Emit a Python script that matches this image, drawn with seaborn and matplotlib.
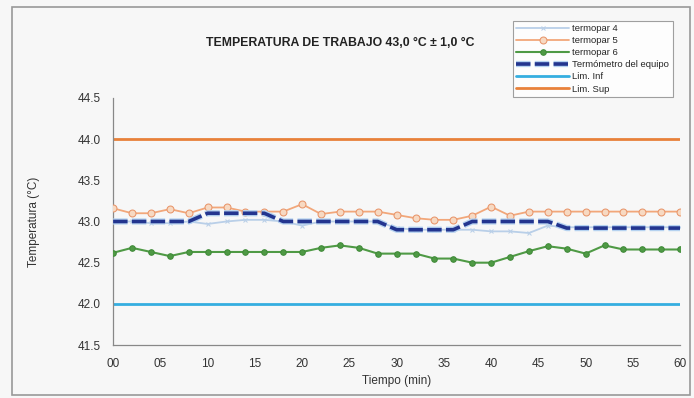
import matplotlib
matplotlib.use("Agg")
import matplotlib.pyplot as plt
import matplotlib.patheffects as pe
from matplotlib.patches import Rectangle
import seaborn as sns

tiempo = [0, 2, 4, 6, 8, 10, 12, 14, 16, 18, 20, 22, 24, 26, 28, 30,
          32, 34, 36, 38, 40, 42, 44, 46, 48, 50, 52, 54, 56, 58, 60]
termopar_4 = [43.00, 43.00, 42.98, 42.98, 43.00, 42.97, 43.00, 43.02, 43.02, 43.00, 42.95,
              43.00, 43.00, 43.00, 43.00, 42.92, 42.90, 42.90, 42.90, 42.90, 42.88,
              42.88, 42.86, 42.95, 42.93, 42.93, 42.93, 42.93, 42.93, 42.93, 42.93]
termopar_5 = [43.16, 43.10, 43.10, 43.15, 43.10, 43.17, 43.17, 43.12, 43.12, 43.12, 43.21,
              43.09, 43.12, 43.12, 43.12, 43.08, 43.04, 43.02, 43.02, 43.07, 43.18,
              43.07, 43.12, 43.12, 43.12, 43.12, 43.12, 43.12, 43.12, 43.12, 43.12]
termopar_6 = [42.62, 42.68, 42.63, 42.58, 42.63, 42.63, 42.63, 42.63, 42.63, 42.63, 42.63,
              42.68, 42.71, 42.68, 42.61, 42.61, 42.61, 42.55, 42.55, 42.50, 42.50,
              42.57, 42.64, 42.70, 42.67, 42.61, 42.71, 42.66, 42.66, 42.66, 42.66]
termometro = [43.0, 43.0, 43.0, 43.0, 43.0, 43.1, 43.1, 43.1, 43.1, 43.0, 43.0,
              43.0, 43.0, 43.0, 43.0, 42.9, 42.9, 42.9, 42.9, 43.0, 43.0,
              43.0, 43.0, 43.0, 42.92, 42.92, 42.92, 42.92, 42.92, 42.92, 42.92]
lim_tiempo = [0, 60]
lim_inf = [42.0, 42.0]
lim_sup = [44.0, 44.0]

x_ticks = [0, 5, 10, 15, 20, 25, 30, 35, 40, 45, 50, 55, 60]
x_labels = ["00", "05", "10", "15", "20", "25", "30", "35", "40", "45", "50", "55", "60"]
y_ticks = [41.5, 42.0, 42.5, 43.0, 43.5, 44.0, 44.5]

sns.set_style("white")
plt.rcParams['font.family'] = ['Liberation Sans', 'DejaVu Sans']

fig = plt.figure(figsize=(6.94, 3.98), dpi=100, facecolor='#f7f7f7')
ax = fig.add_axes([0.163, 0.133, 0.817, 0.621])
ax.set_facecolor('none')

sns.lineplot(x=tiempo, y=termopar_4, ax=ax, color='#b9cfe8', lw=1.3, marker='x',
             markersize=3, markeredgecolor='#b9cfe8', label='termopar 4', zorder=3)
sns.lineplot(x=tiempo, y=termopar_5, ax=ax, color='#f2a77a', lw=1.3, marker='o',
             markersize=5, markerfacecolor='#f7d9c2', markeredgecolor='#e8956a',
             label='termopar 5', zorder=4)
sns.lineplot(x=tiempo, y=termopar_6, ax=ax, color='#4f9a45', lw=1.5, marker='o',
             markersize=4, markeredgecolor='#3f8a38', label='termopar 6', zorder=4)
sns.lineplot(x=tiempo, y=termometro, ax=ax, color='#23358f', lw=2.6,
             label='Termómetro del equipo', zorder=5)
ax.lines[-1].set_dashes((4, 1.2))
ax.lines[-1].set_path_effects([pe.Stroke(linewidth=4.5, foreground='#b5d2f0'), pe.Normal()])
sns.lineplot(x=lim_tiempo, y=lim_inf, ax=ax, color='#35aee0', lw=2, label='Lim. Inf', zorder=2)
sns.lineplot(x=lim_tiempo, y=lim_sup, ax=ax, color='#e8813a', lw=2, label='Lim. Sup', zorder=2)

ax.set_xlim(0, 60)
ax.set_ylim(41.5, 44.5)
ax.set_xticks(x_ticks)
ax.set_xticklabels(x_labels)
ax.set_yticks(y_ticks)
ax.set_yticklabels([f"{v:.1f}" for v in y_ticks])
ax.tick_params(axis='both', labelsize=8.5, colors='#444444', length=3, width=0.8,
               direction='out', pad=6)
for lab in ax.get_xticklabels() + ax.get_yticklabels():
    lab.set_color('#333333')
sns.despine(ax=ax)
for s in ['left', 'bottom']:
    ax.spines[s].set_color('#888888')
    ax.spines[s].set_linewidth(0.9)

ax.set_xlabel('Tiempo (min)', fontsize=8.5, color='#333333', labelpad=4)
ax.set_ylabel('Temperatura (°C)', fontsize=8.5, color='#333333', labelpad=27)

fig.text(0.49, 0.892, 'TEMPERATURA DE TRABAJO 43,0 °C ± 1,0 °C', ha='center', va='center',
         fontsize=8.8, fontweight='bold', color='#222222')

handles, labels = ax.get_legend_handles_labels()
ax.get_legend().remove()
leg = fig.legend(handles, labels, loc='upper left', bbox_to_anchor=(0.739, 0.947),
                 fontsize=6.8, frameon=True, fancybox=False, edgecolor='#888888',
                 facecolor='white', handlelength=5.6, labelspacing=0.32,
                 borderpad=0.35, handletextpad=0.35, borderaxespad=0)
leg.get_frame().set_linewidth(0.8)

fig.patches.append(Rectangle((0.017, 0.008), 0.977, 0.975, transform=fig.transFigure,
                             fill=False, edgecolor='#999999', lw=1.2))

fig.savefig('out.png', dpi=100, facecolor=fig.get_facecolor())
